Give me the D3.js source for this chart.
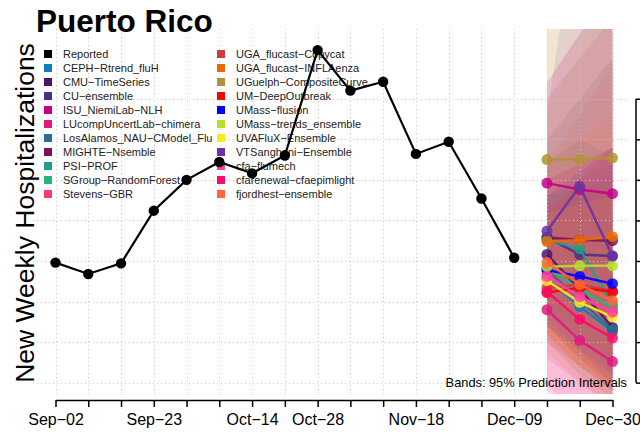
<!DOCTYPE html>
<html><head><meta charset="utf-8">
<script src="https://cdn.jsdelivr.net/npm/d3@7"></script>
<style>
body{margin:0;background:#fff}
svg{display:block}
text{font-family:"Liberation Sans",Arial,Helvetica,sans-serif}
</style>
</head><body><svg id="c" width="640" height="432"></svg>
<script>
// ---------------- data ----------------
const reportedDates = ["2023-09-02","2023-09-09","2023-09-16","2023-09-23","2023-09-30","2023-10-07","2023-10-14","2023-10-21","2023-10-28","2023-11-04","2023-11-11","2023-11-18","2023-11-25","2023-12-02","2023-12-09"];
const reportedValues = [198,184,197,262,300,322,308,330,460,410,421,332,347,277,204];

const forecastDates = ["2023-12-16","2023-12-23","2023-12-30"];

const modelNames = ["CEPH\u2212Rtrend_fluH","CMU\u2212TimeSeries","CU\u2212ensemble","ISU_NiemiLab\u2212NLH","LUcompUncertLab\u2212chimera","LosAlamos_NAU\u2212CModel_Flu","MIGHTE\u2212Nsemble","PSI\u2212PROF","SGroup\u2212RandomForest","Stevens\u2212GBR","UGA_flucast\u2212Copycat","UGA_flucast\u2212INFLAenza","UGuelph\u2212CompositeCurve","UM\u2212DeepOutbreak","UMass\u2212flusion","UMass\u2212trends_ensemble","UVAFluX\u2212Ensemble","VTSanghani\u2212Ensemble","cfa\u2212flumech","cfarenewal\u2212cfaepimlight","fjordhest\u2212ensemble"];
const modelColors = ["#0b7db8","#4a176d","#4a3085","#c5008c","#e0187f","#2a6e90","#77145e","#1f9e88","#27b27a","#ff3a6d","#d13b3f","#ec6a00","#b09234","#ff0000","#0000ff","#b4e02c","#ffe91e","#6a33a0","#ff42a0","#ff0a6a","#ff6535"];

const modelMedians = [
  [178,144,113],[208,165,118],[229,208,206],[296,288,283],[140,102,76],
  [189,152,115],[229,226,225],[226,215,146],[192,165,142],[183,155,137],
  [167,171,163],[224,226,230],[325,325,327],[161,167,162],[189,181,172],
  [193,194,194],[176,149,131],[237,292,206],[181,156,137],[162,128,105],
  [198,171,151]
];
const modelLower = [
  [100,60,30],[120,80,40],[140,100,70],[210,170,130],[50,0,0],
  [110,70,40],[120,80,50],[150,110,60],[120,80,50],[110,70,40],
  [80,50,20],[90,50,20],[180,120,70],[100,70,50],[120,90,60],
  [100,60,30],[110,70,50],[130,90,50],[40,0,0],[40,0,0],
  [110,70,40]
];
const modelUpper = [
  [280,300,320],[300,320,340],[350,400,450],[400,450,500],[230,240,250],
  [280,290,300],[420,480,540],[320,350,330],[280,290,300],[270,280,290],
  [320,380,440],[520,650,780],[650,800,950],[260,300,340],[280,310,340],
  [380,460,550],[260,270,280],[380,650,480],[420,480,520],[300,320,340],
  [320,350,380]
];

const xTickLabelDates = ["2023-09-02","2023-09-23","2023-10-14","2023-10-28","2023-11-18","2023-12-09","2023-12-30"];
const yTickValues = [50,100,150,200,250,300,350,400];

// ---------------- drawing ----------------
const parse = d3.utcParse("%Y-%m-%d");
const svg = d3.select("#c");
const plot = {left:33, right:634, top:29, bottom:394};

const x = d3.scaleUtc().domain([parse("2023-09-02"), parse("2023-12-30")]).range([55.5, 612.5]);
const y = d3.scaleLinear().domain([36, 486]).range([plot.bottom, plot.top]);

const allWeeks = d3.range(18).map(i => d3.utcDay.offset(parse("2023-09-02"), 7*i));
const labelSet = new Set(xTickLabelDates);
const fmtKey = d3.utcFormat("%Y-%m-%d");
const fmtLab = d => d3.utcFormat("%b")(d) + "\u2212" + d3.utcFormat("%d")(d);

svg.append("defs").append("clipPath").attr("id","clip")
  .append("rect").attr("x",plot.left).attr("y",plot.top)
  .attr("width",plot.right-plot.left).attr("height",plot.bottom-plot.top);

// bands
const fx = forecastDates.map(parse);
const bandG = svg.append("g").attr("clip-path","url(#clip)");
modelNames.forEach((m,i)=>{
  const pts = fx.map((d,k)=>({d, lo:modelLower[i][k], hi:modelUpper[i][k]}));
  const area = d3.area().x(p=>x(p.d)).y0(p=>y(p.lo)).y1(p=>y(p.hi));
  bandG.append("path").attr("d",area(pts)).attr("fill",modelColors[i]).attr("fill-opacity",0.11);
});

// grid
const grid = svg.append("g").attr("stroke","#c8c8c8").attr("stroke-width",1).attr("stroke-dasharray","1,3");
allWeeks.forEach(d=>{
  grid.append("line").attr("x1",Math.round(x(d))+0.5).attr("x2",Math.round(x(d))+0.5)
    .attr("y1",plot.top).attr("y2",plot.bottom);
});
yTickValues.forEach(v=>{
  grid.append("line").attr("x1",plot.left).attr("x2",628)
    .attr("y1",Math.round(y(v))+0.5).attr("y2",Math.round(y(v))+0.5);
});

// x axis
const xAxis = d3.axisBottom(x).tickValues(allWeeks).tickSize(7).tickSizeOuter(0).tickPadding(7)
  .tickFormat(d => labelSet.has(fmtKey(d)) ? fmtLab(d) : "");
const gx = svg.append("g").attr("transform","translate(0,400)").call(xAxis);
gx.select(".domain").attr("stroke","#000").attr("stroke-width",1.5);
gx.selectAll(".tick line").attr("stroke","#000").attr("stroke-width",1.5);
gx.selectAll(".tick text").attr("font-size",16).attr("fill","#000")
  .attr("font-family","Liberation Sans, Arial, sans-serif");

// right axis (labels fall outside the picture in the reference)
const yAxis = d3.axisRight(y).tickValues(yTickValues).tickSize(7).tickSizeOuter(0).tickFormat("");
const gy = svg.append("g").attr("transform","translate(636,0)").call(yAxis);
gy.select(".domain").remove();
gy.append("line").attr("x1",0).attr("x2",0).attr("y1",y(50)).attr("y2",y(400)).attr("stroke","#000").attr("stroke-width",1.5);
gy.selectAll(".tick line").attr("stroke","#000").attr("stroke-width",1.5);

// title
svg.append("text").attr("x",36).attr("y",32).attr("font-size",31.5).attr("font-weight","bold")
  .attr("fill","#000").text("Puerto Rico");

// y label
svg.append("text").attr("transform","translate(34,213) rotate(-90)").attr("text-anchor","middle")
  .attr("font-size",26.5).attr("fill","#000").text("New Weekly Hospitalizations");

// legend
const legendNames = ["Reported"].concat(modelNames);
const legendColors = ["#000000"].concat(modelColors);
const lg = svg.append("g");
legendNames.forEach((n,i)=>{
  const col = i < 11 ? 0 : 1;
  const row = i % 11;
  const sx = col===0 ? 44 : 217;
  const cy = 54 + row*14;
  lg.append("rect").attr("x",sx).attr("y",cy-4).attr("width",8).attr("height",8).attr("fill",legendColors[i]);
  lg.append("text").attr("x",sx+19).attr("y",cy+4).attr("font-size",11).attr("fill","#222").text(n);
});

// reported
const rpts = reportedDates.map((d,i)=>({d:parse(d), v:reportedValues[i]}));
svg.append("path").attr("d", d3.line().x(p=>x(p.d)).y(p=>y(p.v))(rpts))
  .attr("fill","none").attr("stroke","#000").attr("stroke-width",2.2);
svg.selectAll(".rp").data(rpts).enter().append("circle")
  .attr("cx",p=>x(p.d)).attr("cy",p=>y(p.v)).attr("r",5.2).attr("fill","#000");

// forecasts
modelNames.forEach((m,i)=>{
  const pts = fx.map((d,k)=>({d, v:modelMedians[i][k]}));
  const g = svg.append("g");
  g.append("path").attr("d", d3.line().x(p=>x(p.d)).y(p=>y(p.v))(pts))
    .attr("fill","none").attr("stroke",modelColors[i]).attr("stroke-width",2.5).attr("stroke-opacity",0.9);
  g.selectAll("circle").data(pts).enter().append("circle")
    .attr("cx",p=>x(p.d)).attr("cy",p=>y(p.v)).attr("r",5.5)
    .attr("fill",modelColors[i]).attr("fill-opacity",0.85);
});

// band note
svg.append("text").attr("x",627).attr("y",387).attr("text-anchor","end")
  .attr("font-size",12.8).attr("fill","#000").text("Bands: 95% Prediction Intervals");
</script>
</body></html>
